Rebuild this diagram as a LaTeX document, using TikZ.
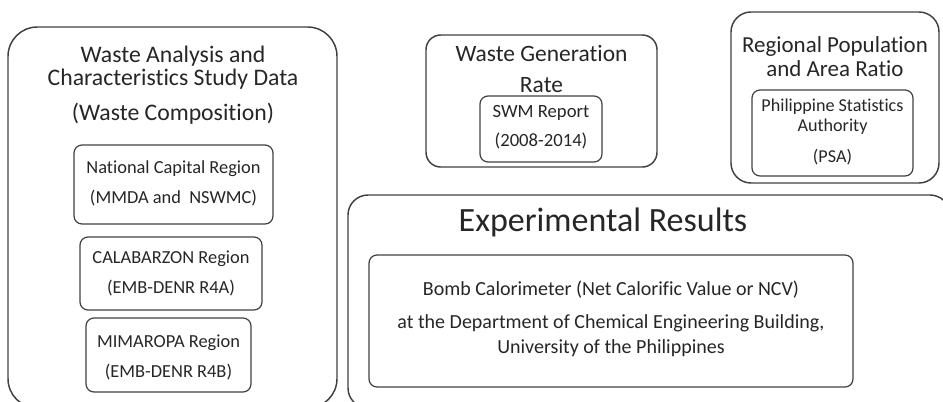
\documentclass[tikz,border=0pt]{standalone}
\usepackage{fontspec}
\setmainfont[Ligatures={NoCommon}]{Carlito}

\tikzset{
  outerbox/.style={draw=black!75, line width=1.1pt, rounded corners=#1},
  innerbox/.style={draw=black!75, line width=0.9pt, rounded corners=6pt},
  title/.style={align=center, text=black!85, inner sep=0pt, font=\fontsize{17.8}{17.5}\selectfont},
  entry/.style={align=center, text=black!85, inner sep=0pt, font=\fontsize{13.8}{22.5}\selectfont}
}

\begin{document}
\begin{tikzpicture}[x=0.75pt, y=-0.75pt]
  \useasboundingbox (0,0) rectangle (943,401);

  % Outer boxes
  \draw[outerbox=22pt] (8,27) rectangle (337,408);
  \draw[outerbox=11pt] (426,35) rectangle (657,167);
  \draw[outerbox=15pt] (731,12) rectangle (939,183);
  \draw[outerbox=15pt] (348,195) rectangle (950,408);

  % Inner boxes
  \draw[innerbox] (74,145) rectangle (273,224);
  \draw[innerbox] (80,237) rectangle (262,310);
  \draw[innerbox] (86,318) rectangle (251,392);
  \draw[innerbox] (480,96) rectangle (602,162);
  \draw[innerbox] (752,90) rectangle (913,176);
  \draw[innerbox] (369,255) rectangle (853,387);

  % Waste analysis
  \node[title] (wacs) at (173,68) {Waste Analysis and\\Characteristics Study Data};
  \node[title] (comp) at (173,114) {(Waste Composition)};
  \node[entry] (ncr) at (173.5,183) {National Capital Region\\(MMDA and~~NSWMC)};
  \node[entry] (calab) at (171,273) {CALABARZON Region\\(EMB-DENR R4A)};
  \node[entry] (mima) at (168.5,357) {MIMAROPA Region\\(EMB-DENR R4B)};

  % Waste generation
  \node[title, font=\fontsize{17.6}{23}\selectfont] (wgr) at (541.5,69) {Waste Generation\\Rate};
  \node[entry, font=\fontsize{14}{21.5}\selectfont] (swm) at (541,127) {SWM Report\\(2008-2014)};

  % Population
  \node[title, font=\fontsize{17.2}{18}\selectfont] (rpar) at (835,57) {Regional Population\\and Area Ratio};
  \node[entry, font=\fontsize{13.6}{15}\selectfont] (psa) at (832.5,117) {Philippine Statistics\\Authority};
  \node[entry, font=\fontsize{13.6}{15}\selectfont] (psaab) at (832.5,157) {(PSA)};

  % Experimental results
  \node[title, font=\fontsize{25.5}{26}\selectfont] (exp) at (603,222) {Experimental Results};
  \node[entry, font=\fontsize{15}{15}\selectfont] (bomb) at (611,290) {Bomb Calorimeter (Net Calorific Value or NCV)};
  \node[entry, font=\fontsize{15}{19}\selectfont] (dche) at (611,335.5) {at the Department of Chemical Engineering Building,\\University of the Philippines};
\end{tikzpicture}
\end{document}
